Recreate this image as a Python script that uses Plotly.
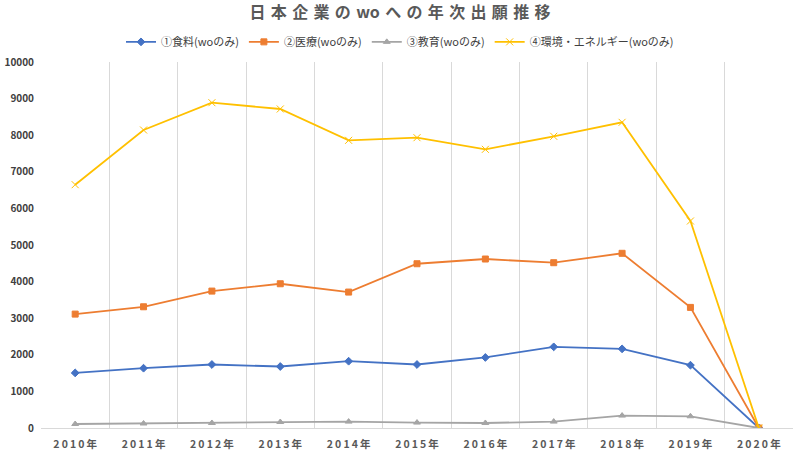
import plotly.graph_objects as go

years = ["2010年", "2011年", "2012年", "2013年", "2014年", "2015年",
         "2016年", "2017年", "2018年", "2019年", "2020年"]
food = [1505, 1634, 1735, 1680, 1825, 1735, 1927, 2217, 2162, 1716, 0]
medical = [3112, 3312, 3741, 3941, 3714, 4488, 4617, 4516, 4773, 3295, 0]
education = [109, 123, 137, 164, 175, 148, 137, 175, 339, 320, 0]
environment = [6648, 8142, 8888, 8716, 7860, 7932, 7614, 7970, 8352, 5656, 0]

names = ["①食料(woのみ)", "②医療(woのみ)", "③教育(woのみ)", "④環境・エネルギー(woのみ)"]
series = [food, medical, education, environment]
colors = ["#4472C4", "#ED7D31", "#A5A5A5", "#FFC000"]
symbols = ["diamond", "square", "triangle-up", "x-thin"]
sizes = [6, 6, 6, 7]
title_parts = ["日", "本", "企", "業", "の", "wo", "へ", "の", "年", "次", "出", "願", "推", "移"]

font = "Noto Sans CJK JP, Noto Sans, sans-serif"


def spaced(s, sp):
    return sp.join(list(s))


fig = go.Figure()
for n, s, c, sym, sz in zip(names, series, colors, symbols, sizes):
    fig.add_trace(go.Scatter(
        x=years, y=s, name=n, mode="lines+markers",
        line=dict(color=c, width=1.8),
        marker=dict(symbol=sym, size=sz, color=c,
                    line=dict(color=c, width=1)),
    ))

fig.update_layout(
    width=800, height=454,
    margin=dict(l=41, r=7, t=62, b=26, autoexpand=False),
    paper_bgcolor="white", plot_bgcolor="white",
    font=dict(family=font, color="#595959"),
    title=dict(text="\u2004".join(title_parts), x=0.5, xanchor="center",
               xref="container", y=0.972, yanchor="middle",
               font=dict(size=16, color="#595959", family=font, weight="bold")),
    legend=dict(orientation="h", xref="container", x=0.5, xanchor="center",
                y=1.055, yanchor="middle",
                font=dict(size=11, color="#404040", family=font),
                itemwidth=30, tracegroupgap=0, bgcolor="rgba(0,0,0,0)"),
    showlegend=True,
)
fig.update_xaxes(
    type="category", tickson="boundaries", showgrid=True, gridcolor="#D9D9D9",
    gridwidth=1, showline=True, linecolor="#D9D9D9", linewidth=1,
    range=[-0.5, len(years) - 0.5], automargin=False,
    tickvals=years, ticktext=[spaced(y, "\u2009") for y in years],
    ticks="", tickfont=dict(size=10.5, color="#595959", family=font, weight="bold"),
    ticklabelstandoff=6,
)
fig.update_yaxes(
    range=[0, 10000], dtick=1000, showgrid=False, zeroline=False,
    showline=False, ticks="", automargin=False,
    tickfont=dict(size=10, color="#404040", family=font, weight="bold"),
    tickformat="d", ticklabelstandoff=6,
)

fig.write_html("out.html")
